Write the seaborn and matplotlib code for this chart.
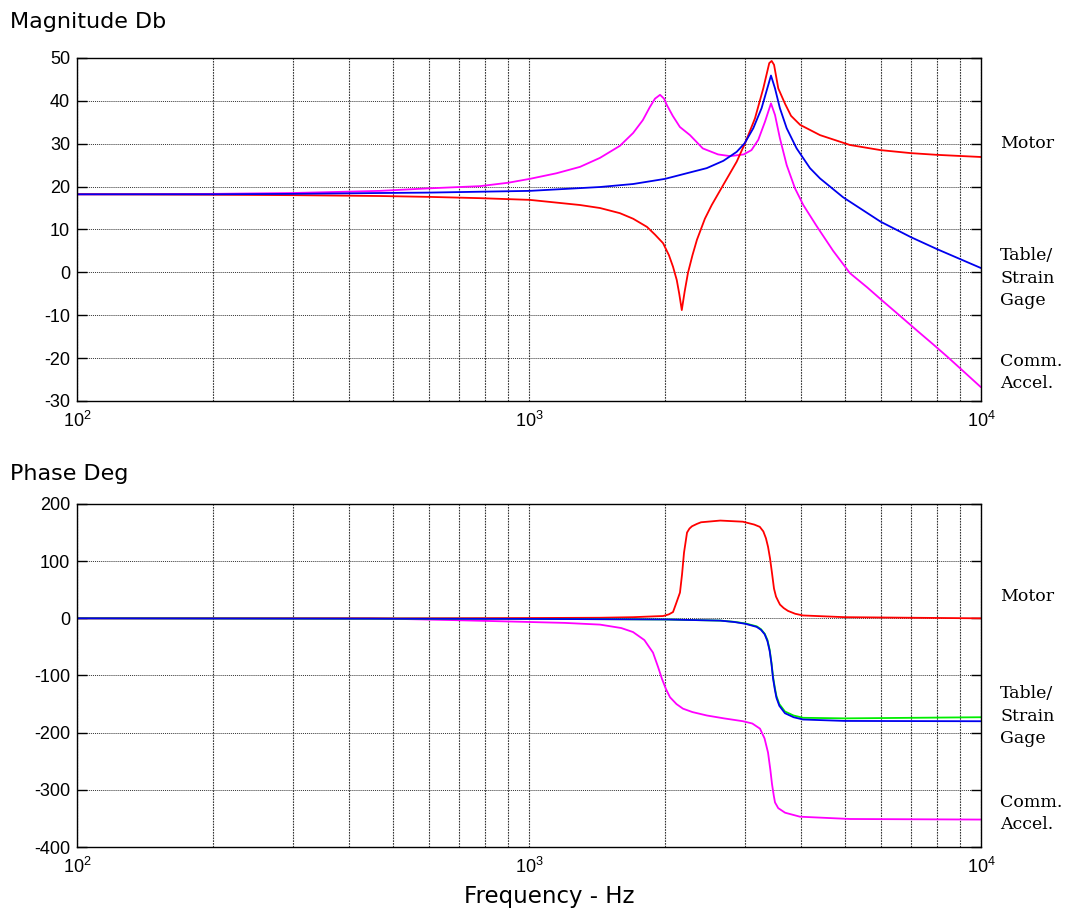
import pandas as pd
import matplotlib
matplotlib.use("Agg")
import matplotlib.pyplot as plt
import matplotlib.ticker as mticker
import seaborn as sns

# --- Magnitude (dB) ---
mag_motor_f = [100, 200, 300, 468, 600, 779, 1004, 1297, 1436, 1589, 1700, 1824, 1900,
               1980, 2040, 2083, 2123, 2150, 2178, 2210, 2248, 2300, 2353, 2450, 2537,
               2691, 2881, 3006, 3162, 3299, 3401, 3443, 3485, 3561, 3686, 3800, 3980,
               4405, 5130, 6000, 7000, 8000, 10000]
mag_motor_db = [18.2, 18.1, 18.0, 17.8, 17.6, 17.3, 16.9, 15.7, 15.0, 13.8, 12.5, 10.6, 8.8,
                6.8, 4.0, 1.3, -1.8, -5.0, -8.8, -4.5, -0.1, 4.0, 7.6, 12.5, 15.7,
                20.4, 25.8, 30.1, 35.9, 42.9, 48.8, 49.3, 48.4, 42.9, 39.3, 36.5, 34.4,
                32.0, 29.7, 28.5, 27.8, 27.4, 26.9]

mag_table_f = [100, 200, 300, 468, 604, 779, 1004, 1436, 1700, 2000, 2271, 2473, 2691,
               2881, 3000, 3135, 3271, 3367, 3431, 3502, 3590, 3717, 3910, 4185, 4405,
               4955, 6000, 7000, 8000, 10000]
mag_table_db = [18.2, 18.2, 18.3, 18.5, 18.6, 18.8, 19.0, 19.9, 20.6, 21.8, 23.3, 24.3, 26.0,
                28.1, 30.1, 33.6, 38.3, 42.9, 45.9, 42.9, 38.3, 33.6, 28.9, 24.3, 21.9,
                17.5, 11.8, 8.2, 5.4, 1.0]

mag_accel_f = [100, 200, 300, 468, 604, 779, 900, 1004, 1150, 1297, 1436, 1589, 1700,
               1786, 1850, 1900, 1950, 1990, 2019, 2080, 2157, 2271, 2424, 2620, 2786,
               2985, 3106, 3216, 3327, 3431, 3502, 3590, 3717, 3877, 4045, 4329, 4710,
               5131, 5600, 6080, 6680, 7260, 7840, 8450, 8910, 10000]
mag_accel_db = [18.2, 18.3, 18.5, 19.0, 19.6, 20.1, 20.9, 21.8, 23.1, 24.6, 26.7, 29.5, 32.5,
                35.5, 38.5, 40.5, 41.4, 40.5, 39.0, 36.5, 33.9, 32.0, 28.9, 27.5, 27.1,
                27.5, 28.5, 30.9, 35.1, 39.4, 36.7, 31.3, 25.0, 19.6, 15.7, 10.8, 5.0,
                -0.2, -3.5, -6.8, -10.5, -13.8, -16.8, -19.8, -22.0, -26.8]

# --- Phase (deg) ---
ph_motor_f = [100, 500, 1000, 1436, 1700, 1900, 1980, 2040, 2083, 2114, 2158, 2181, 2203,
              2237, 2265, 2294, 2350, 2402, 2650, 2973, 3150, 3241, 3300, 3344, 3380,
              3414, 3449, 3484, 3520, 3560, 3592, 3660, 3741, 3880, 4038, 5000, 7000,
              10000]
ph_motor_deg = [0, 0, 0.5, 1, 2, 3.5, 4, 7, 11, 25, 45, 77, 115,
                150, 157, 161, 165, 168, 171, 169, 164, 160, 152, 140, 125,
                105, 79, 52, 38, 30, 24, 18, 13, 8, 5, 2, 1,
                0]

ph_table_f = [100, 1000, 2000, 2650, 2850, 3013, 3190, 3260, 3323, 3370, 3408, 3440,
              3467, 3500, 3528, 3580, 3684, 3850, 4040, 5000, 10000]
ph_table_deg = [0, -1, -2, -4, -6.5, -9.6, -15, -20, -28, -40, -57, -80,
                -105, -125, -139, -153, -166, -173, -177, -179.5, -180]

ph_gage_f = [100, 1000, 2000, 2650, 2850, 3013, 3190, 3260, 3323, 3370, 3408, 3440,
             3467, 3500, 3528, 3580, 3684, 3850, 4040, 5000, 10000]
ph_gage_deg = [0, -1, -2, -4, -6.2, -9.0, -14, -19, -27, -38, -55, -78,
               -102, -122, -136, -150, -163, -170, -174, -175, -173]

ph_accel_f = [100, 445, 669, 955, 1200, 1436, 1600, 1699, 1800, 1881, 1930, 1969, 2010,
              2051, 2120, 2191, 2300, 2476, 2700, 2975, 3120, 3244, 3320, 3380, 3420,
              3449, 3480, 3502, 3560, 3686, 3977, 5131, 10000]
ph_accel_deg = [0, 0, -3, -6, -8, -11, -17, -24, -38, -60, -85, -106, -124,
                -138, -150, -158, -164, -170, -175, -180, -184, -193, -210, -235, -265,
                -290, -310, -322, -332, -340, -347, -351, -352]


def long_frame(parts):
    rows = []
    for name, f, v in parts:
        rows.append(pd.DataFrame({"freq": f, "value": v, "series": name}))
    return pd.concat(rows, ignore_index=True)


mag_df = long_frame([("accel", mag_accel_f, mag_accel_db),
                     ("motor", mag_motor_f, mag_motor_db),
                     ("table", mag_table_f, mag_table_db)])
ph_df = long_frame([("accel", ph_accel_f, ph_accel_deg),
                    ("motor", ph_motor_f, ph_motor_deg),
                    ("gage", ph_gage_f, ph_gage_deg),
                    ("table", ph_table_f, ph_table_deg)])

palette = {"motor": "#ff0000", "table": "#0000ee", "gage": "#00ee00", "accel": "#ff00ff"}

sns.set_style("white")
plt.rcParams["font.family"] = ["Liberation Sans", "DejaVu Sans"]
plt.rcParams["axes.unicode_minus"] = False
plt.rcParams["text.color"] = "black"
plt.rcParams["xtick.color"] = "black"
plt.rcParams["ytick.color"] = "black"

fig = plt.figure(figsize=(10.8, 9.14), dpi=100)
ax1 = fig.add_axes([0.0713, 0.5613, 0.837, 0.3753])
ax2 = fig.add_axes([0.0713, 0.0733, 0.837, 0.3753])

for ax, df, order in [(ax1, mag_df, ["accel", "motor", "table"]),
                      (ax2, ph_df, ["accel", "motor", "gage", "table"])]:
    ax.set_xscale("log")
    sns.lineplot(data=df, x="freq", y="value", hue="series", hue_order=order,
                 palette=palette, estimator=None, sort=False, linewidth=1.3,
                 legend=False, ax=ax)
    ax.set_xlim(100, 10000)
    ax.xaxis.set_major_locator(mticker.FixedLocator([100, 1000, 10000]))
    ax.xaxis.set_minor_locator(mticker.LogLocator(base=10, subs=range(2, 10)))
    ax.xaxis.set_minor_formatter(mticker.NullFormatter())
    ax.grid(which="both", axis="x", color="#333333", linestyle=(0, (1.5, 1)), linewidth=0.8)
    ax.grid(which="major", axis="y", color="#333333", linestyle=(0, (1, 1)), linewidth=0.7)
    ax.tick_params(axis="y", which="major", direction="in", length=7, width=1,
                   left=True, right=True, labelsize=13, pad=5, colors="black")
    ax.tick_params(axis="x", which="both", length=0, labelsize=13, pad=7, colors="black")
    ax.set_xlabel("")
    ax.set_ylabel("")
    for s in ax.spines.values():
        s.set_color("black")
        s.set_linewidth(1)

ax1.set_ylim(-30, 50)
ax1.set_yticks(range(-30, 51, 10))
ax2.set_ylim(-400, 200)
ax2.set_yticks(range(-400, 201, 100))

sans_wide = ["DejaVu Sans"]
fig.text(0.009, 0.976, "Magnitude Db", fontsize=16, family=sans_wide, va="center",
         ha="left", color="black")
fig.text(0.009, 0.4814, "Phase Deg", fontsize=16, family=sans_wide, va="center",
         ha="left", color="black")
fig.text(0.509, 0.0186, "Frequency - Hz", fontsize=16.5, family=sans_wide,
         va="center", ha="center", color="black")

serif = ["DejaVu Serif"]
side_labels = [
    (0.8435, "Motor"), (0.6958, "Table/\nStrain\nGage"), (0.5925, "Comm.\nAccel."),
    (0.3479, "Motor"), (0.2166, "Table/\nStrain\nGage"), (0.1100, "Comm.\nAccel."),
]
for y, txt in side_labels:
    fig.text(0.926, y, txt, fontsize=12.5, family=serif, va="center", ha="left",
             linespacing=1.45, color="black")

fig.savefig("out.png", dpi=100)
